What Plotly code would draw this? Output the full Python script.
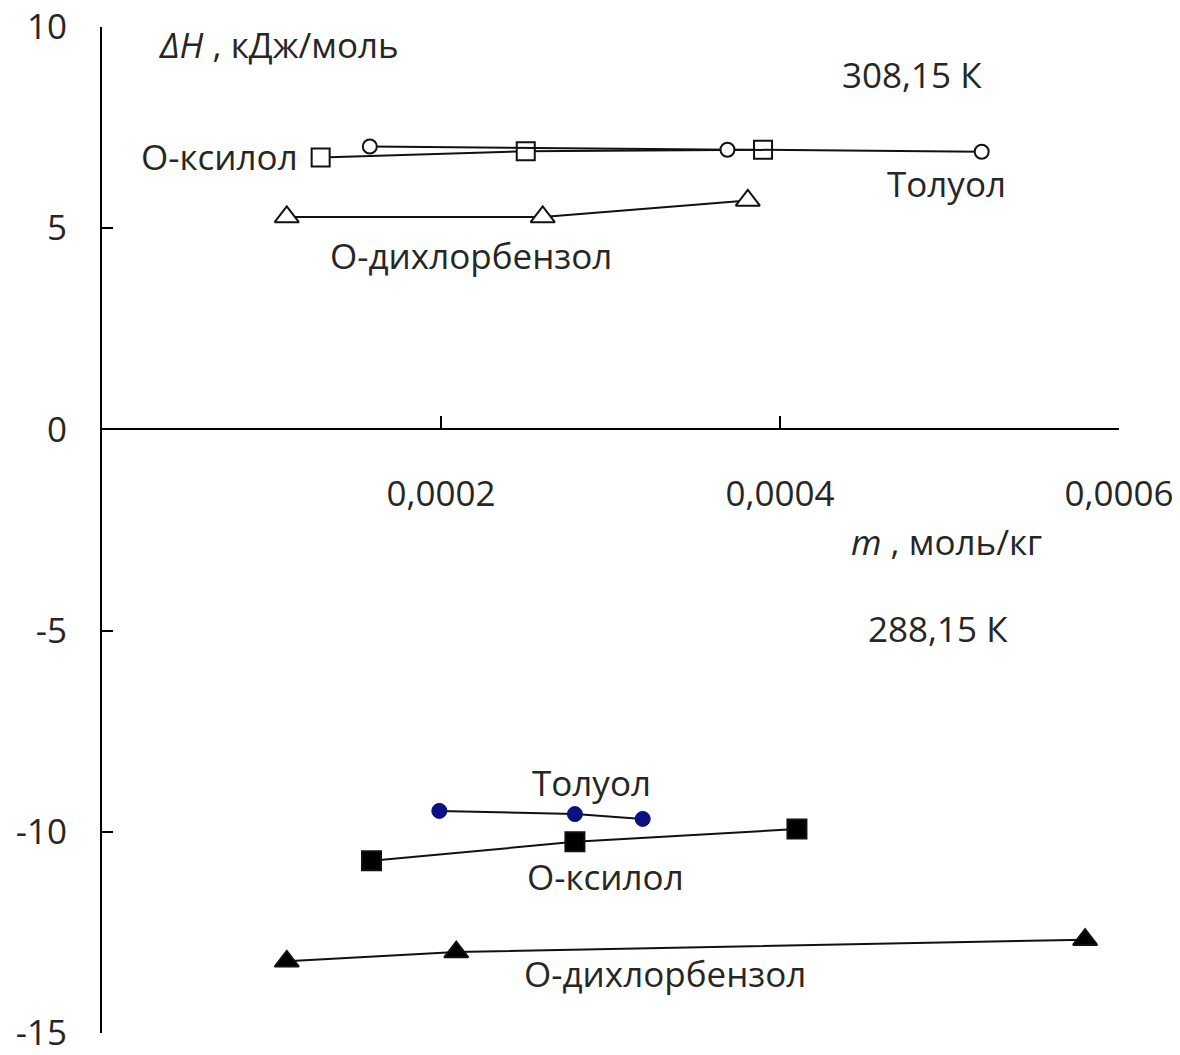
import plotly.graph_objects as go

# ---- data (308.15 K, open markers) ----
tol_hot_m = [0.000158, 0.000369, 0.000519]
tol_hot_h = [7.03, 6.95, 6.90]
xyl_hot_m = [0.000129, 0.000250, 0.000390]
xyl_hot_h = [6.76, 6.91, 6.95]
dcb_hot_m = [0.000109, 0.000260, 0.000381]
dcb_hot_h = [5.28, 5.28, 5.69]

# ---- data (288.15 K, filled markers) ----
tol_cold_m = [0.000199, 0.000279, 0.000319]
tol_cold_h = [-9.48, -9.56, -9.68]
xyl_cold_m = [0.000159, 0.000279, 0.000410]
xyl_cold_h = [-10.72, -10.25, -9.93]
dcb_cold_m = [0.000109, 0.000209, 0.000580]
dcb_cold_h = [-13.22, -12.99, -12.68]

x_tickvals = [0.0002, 0.0004, 0.0006]
x_ticktext = ["0,0002", "0,0004", "0,0006"]
y_tickvals = [10, 5, 0, -5, -10, -15]
y_ticktext = ["10", "5", "0", "-5", "-10", "-15"]

FONT = "Open Sans"
TXT = "#262626"

fig = go.Figure()

def add(xs, ys, symbol, size, fill, line_col="#111111"):
    fig.add_trace(go.Scatter(
        x=xs, y=ys, mode="lines+markers",
        line=dict(color=line_col, width=2),
        marker=dict(symbol=symbol, size=size, color=fill,
                    line=dict(color="#111111", width=2)),
        showlegend=False, cliponaxis=False))

add(dcb_hot_m, dcb_hot_h, "triangle-up", 21, "white")
add(xyl_hot_m, xyl_hot_h, "square", 18, "white")
add(tol_hot_m, tol_hot_h, "circle", 14, "white")

add(dcb_cold_m, dcb_cold_h, "triangle-up", 21, "black")
add(xyl_cold_m, xyl_cold_h, "square", 19, "black")
fig.add_trace(go.Scatter(
    x=tol_cold_m, y=tol_cold_h, mode="lines+markers",
    line=dict(color="#111111", width=2),
    marker=dict(symbol="circle", size=15, color="#0c1080",
                line=dict(color="#0c1080", width=1)),
    showlegend=False, cliponaxis=False))

annos = [
    (0.0000322, 9.56, "<i>ΔH</i>\u00a0, кДж/моль", "left"),
    (0.000478, 8.81, "308,15 К", "center"),
    (0.0001167, 6.79, "О-ксилол", "right"),
    (0.000498, 6.10, "Толуол", "center"),
    (0.0002178, 4.32, "О-дихлорбензол", "center"),
    (0.000498, -2.79, "<i>m</i>\u00a0, моль/кг", "center"),
    (0.000493, -4.96, "288,15 К", "center"),
    (0.000289, -8.77, "Толуол", "center"),
    (0.000297, -11.11, "О-ксилол", "center"),
    (0.000332, -13.51, "О-дихлорбензол", "center"),
]
for x, y, t, anc in annos:
    fig.add_annotation(x=x, y=y, text=t, showarrow=False, xanchor=anc,
                       yanchor="middle", font=dict(family=FONT, size=35, color=TXT))

fig.update_layout(
    width=1180, height=1055,
    margin=dict(l=102, r=61, t=27, b=22),
    paper_bgcolor="white", plot_bgcolor="white",
    font=dict(family=FONT, size=35, color=TXT),
    xaxis=dict(range=[0, 0.0006], anchor="free", position=0.6,
               showline=True, linecolor="black", linewidth=2,
               ticks="inside", ticklen=12, tickwidth=2, tickcolor="black",
               tickvals=x_tickvals, ticktext=x_ticktext,
               ticklabelstandoff=34, ticklabeloverflow="allow",
               showgrid=False, zeroline=False, automargin=False),
    yaxis=dict(range=[-15, 10], showline=True, linecolor="black", linewidth=2,
               ticks="inside", ticklen=11, tickwidth=2, tickcolor="black",
               tickvals=y_tickvals, ticktext=y_ticktext,
               ticklabelstandoff=26, ticklabeloverflow="allow",
               showgrid=False, zeroline=False, automargin=False),
)

fig.write_html(
    "out.html",
    config={"displayModeBar": False},
    post_script="document.body.style.margin='0';document.body.style.overflow='hidden';",
)
